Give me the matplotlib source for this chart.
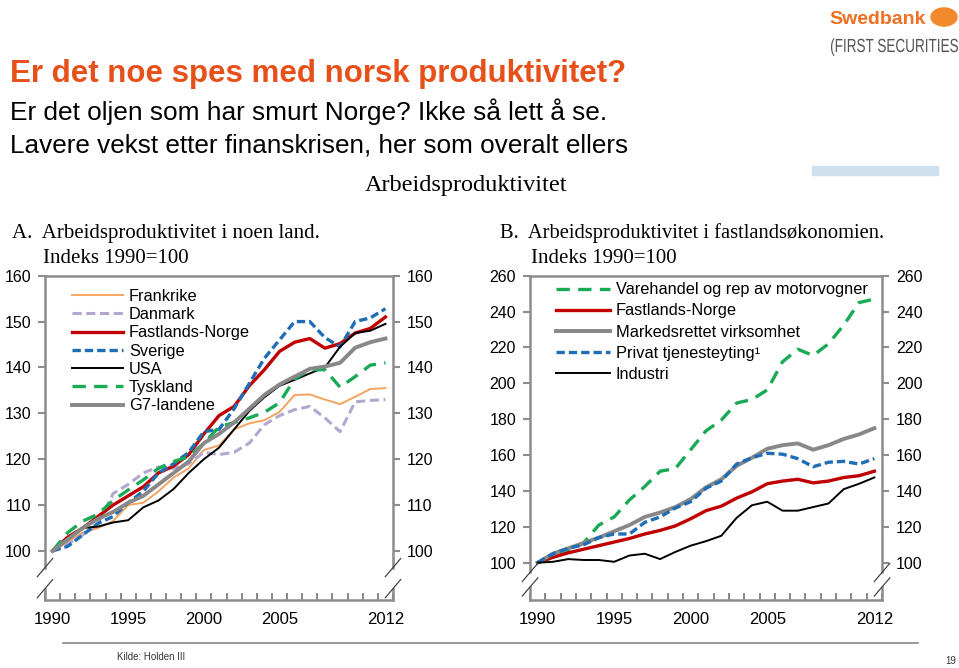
#
#   Arbeidsproduktivitet - slide 19 (Norge vs andre land, og fastlandsoekonomien)
#

import numpy as np
import matplotlib
matplotlib.use("Agg")
import matplotlib.pyplot as plt
from matplotlib.patches import Circle, Rectangle, PathPatch
from matplotlib.lines import Line2D
from matplotlib.textpath import TextPath
from matplotlib.font_manager import FontProperties
from matplotlib.transforms import Affine2D

#
#   Data (indeks 1990=100), lest av figuren
#

YEARS = list(range(1990, 2013))
XLABELS = {1990: "1990", 1995: "1995", 2000: "2000", 2005: "2005", 2012: "2012"}

# Panel A
frankrike = [100, 102, 104, 105, 106.5, 110, 110.5, 113, 116, 118, 122, 123, 126.5, 127.8,
             128.5, 130.3, 134, 134.1, 133, 132, 133.6, 135.3, 135.5]
danmark = [100, 101.5, 103.5, 106, 112.5, 114.5, 117, 118.3, 118, 119, 121.5, 121, 121.5, 123.5,
           127.5, 129.5, 130.8, 131.5, 129, 126, 132.5, 132.8, 133]
fastland_a = [100, 103, 105, 107.5, 110, 112, 114, 117, 118.5, 121, 125.5, 129.5, 131.5, 136,
              139.5, 143.5, 145.5, 146.3, 144.2, 145.2, 147.5, 148.5, 151]
sverige = [100, 101, 103.5, 106, 107.5, 110.5, 113, 117, 119, 121.5, 126, 126.5, 131, 136.5,
           142, 146, 150, 150, 146.5, 144.5, 150, 150.8, 152.8]
usa = [100, 102.5, 105, 105.3, 106.2, 106.7, 109.5, 111, 113.5, 117, 120, 122.5, 126.5, 130.5,
       133.5, 136, 137.3, 138.7, 140, 144.5, 147.5, 148, 149.5]
tyskland = [100, 104, 106.5, 108, 111, 113.3, 115.5, 118, 119.5, 120.5, 123.5, 127, 128, 129,
            130.2, 132.3, 137.5, 139.5, 139.5, 135.7, 138, 140.5, 141]
g7 = [100, 102.5, 105, 107, 108.5, 110.5, 112, 114.5, 117, 119.5, 123.5, 125.5, 128, 131,
      134, 136.3, 138, 139.7, 140.2, 141, 144.3, 145.5, 146.3]

# Panel B
varehandel = [100, 103, 106, 111, 121, 125.5, 135, 142.5, 151, 152.5, 163, 173.5, 179.5, 189,
              191, 196.3, 212, 219, 215.5, 222, 232.5, 245, 247]
fastland_b = [100, 103, 105.5, 107.5, 109.5, 111.5, 113.5, 116, 118, 120.5, 124.5, 129, 131.5,
              136, 139.5, 144, 145.5, 146.5, 144.5, 145.5, 147.5, 148.5, 151]
markedsrettet = [100, 105, 108, 111, 114, 117.5, 121, 125.5, 128, 131, 135.5, 142, 146.5, 154,
                 158.5, 163.5, 165.5, 166.5, 163, 165.5, 169, 171.5, 175]
privat = [100, 105, 108, 110, 114, 116, 116, 122.5, 125.5, 130.5, 134, 141.5, 145.5, 155,
          158.5, 161, 160.5, 158, 153.5, 156, 156.5, 155, 158]
industri = [100, 100.5, 102, 101.5, 101.5, 100.5, 104, 105, 102, 106, 109.5, 112, 115, 125,
            132, 134, 129, 129, 131, 133, 141, 144, 147.5]

ORANGE = "#f4a460"
LAVENDER = "#b4a7cf"
RED = "#c00000"
BLUE = "#1f6db5"
GREEN = "#1aaa55"
GRAY = "#888888"
SPINE = "#8c8c8c"

plt.rcParams["font.family"] = ["Liberation Sans", "DejaVu Sans"]

fig = plt.figure(figsize=(9.59, 6.68), dpi=100)


def px(x, y):
    # pixel position -> figure fraction
    return x / 959, 1 - y / 668


def style_axis(ax, ylim, yticks, brk):
    ax.set_xlim(1989.5, 2012.5)
    ax.set_ylim(*ylim)
    ax.set_yticks(yticks)
    ax.set_xticks(YEARS)
    ax.set_xticklabels([XLABELS.get(y, "") for y in YEARS])
    ax.set_xticks(np.arange(1989.5, 2013, 1), minor=True)
    ax.tick_params(axis="x", which="major", length=0, pad=9, labelsize=12)
    ax.tick_params(axis="x", which="minor", direction="in", length=5, width=1.5, color=SPINE)
    ax.tick_params(axis="y", which="major", direction="out", length=5, width=1.5, color=SPINE,
                   labelsize=11.5, left=True, right=True, labelleft=True, labelright=True, pad=5)
    for s in ["top", "bottom"]:
        ax.spines[s].set_color(SPINE)
        ax.spines[s].set_linewidth(1.8)
    ax.spines["left"].set_visible(False)
    ax.spines["right"].set_visible(False)
    b1, b2 = brk
    for xa in (0, 1):
        ax.add_line(Line2D([xa, xa], [b1, 1], transform=ax.transAxes, color=SPINE, lw=1.8, clip_on=False))
        ax.add_line(Line2D([xa, xa], [0, b2], transform=ax.transAxes, color=SPINE, lw=1.8, clip_on=False))
        for yb in (b1, b2):
            ax.add_line(Line2D([xa - 0.022, xa + 0.022], [yb - 0.028, yb + 0.028], transform=ax.transAxes,
                               color="#444444", lw=0.9, clip_on=False))


# Panel A
l, t = px(45, 275.7)
r, b = px(393, 600)
axa = fig.add_axes([l, b, r - l, t - b])
axa.plot(YEARS, frankrike, color=ORANGE, lw=1.4, label="Frankrike")
axa.plot(YEARS, danmark, color=LAVENDER, lw=2.2, ls=(0, (3, 1.5)), label="Danmark")
axa.plot(YEARS, fastland_a, color=RED, lw=2.4, label="Fastlands-Norge")
axa.plot(YEARS, sverige, color=BLUE, lw=2.4, ls=(0, (2.5, 1.2)), label="Sverige")
axa.plot(YEARS, usa, color="black", lw=1.4, label="USA")
axa.plot(YEARS, tyskland, color=GREEN, lw=2.4, ls=(0, (4, 2.5)), label="Tyskland")
axa.plot(YEARS, g7, color=GRAY, lw=2.8, label="G7-landene")
style_axis(axa, (89.3, 160), range(100, 161, 10), (0.10, 0.035))
axa.legend(loc="upper left", bbox_to_anchor=(0.06, 0.98), frameon=False, fontsize=11.8,
           handlelength=3.1, handletextpad=0.35, labelspacing=0.2, borderaxespad=0)

# Panel B
l, t = px(530, 275.7)
r, b = px(882, 600)
axb = fig.add_axes([l, b, r - l, t - b])
axb.plot(YEARS, varehandel, color=GREEN, lw=2.4, ls=(0, (4, 2.5)), label="Varehandel og rep av motorvogner")
axb.plot(YEARS, fastland_b, color=RED, lw=2.4, label="Fastlands-Norge")
axb.plot(YEARS, markedsrettet, color=GRAY, lw=2.8, label="Markedsrettet virksomhet")
axb.plot(YEARS, privat, color=BLUE, lw=2.4, ls=(0, (2.5, 1.2)), label="Privat tjenesteyting\u00b9")
axb.plot(YEARS, industri, color="black", lw=1.4, label="Industri")
style_axis(axb, (79.2, 260), range(100, 261, 20), (0.085, 0.04))
axb.legend(loc="upper left", bbox_to_anchor=(0.055, 1.0), frameon=False, fontsize=11.8,
           handlelength=3.3, handletextpad=0.35, labelspacing=0.38, borderaxespad=0)

# Titles
fig.text(*px(10, 82), "Er det noe spes med norsk produktivitet?", color="#e8501a",
         fontsize=22.5, fontweight="bold", va="baseline")
fig.text(*px(10, 120), "Er det oljen som har smurt Norge? Ikke s\u00e5 lett \u00e5 se.",
         color="black", fontsize=18.9, va="baseline")
fig.text(*px(10, 152), "Lavere vekst etter finanskrisen, her som overalt ellers",
         color="black", fontsize=18.8, va="baseline")

serif = ["Liberation Serif", "DejaVu Serif"]
fig.text(*px(466, 186), "Arbeidsproduktivitet", family=serif, fontsize=17.5, ha="center", va="center")
fig.text(*px(12, 238), "A.  Arbeidsproduktivitet i noen land.", family=serif, fontsize=15, va="baseline")
fig.text(*px(43, 263), "Indeks 1990=100", family=serif, fontsize=15, va="baseline")
fig.text(*px(500, 238), "B.  Arbeidsproduktivitet i fastlandsøkonomien.", family=serif, fontsize=14.8, va="baseline")
fig.text(*px(531, 263), "Indeks 1990=100", family=serif, fontsize=15, va="baseline")

# Logo
fig.text(*px(829, 24), "Swedbank", color="#ee7023", fontsize=14, fontweight="bold", va="baseline")
fig.patches.append(Circle(px(944, 17), 13 / 959, transform=fig.transFigure, color="#f08a2c", zorder=3))
# condensed "FIRST SECURITIES": text path squeezed horizontally to fit the logo width
tp = TextPath((0, 0), "(FIRST SECURITIES", size=19, prop=FontProperties(family="Liberation Sans"))
ext = tp.get_extents()
sx = 127 / ext.width
tr = Affine2D().translate(-ext.x0, 0).scale(sx / 959, 1 / 668).translate(831 / 959, 1 - 52 / 668)
fig.patches.append(PathPatch(tp, transform=tr + fig.transFigure, color="#555555", lw=0))
fig.patches.append(Rectangle(px(812, 175), 126 / 959, 9 / 668, transform=fig.transFigure,
                             color="#cfe0ee", zorder=1))

# Footer
fig.add_artist(Line2D([63 / 959, 918 / 959], [1 - 643 / 668] * 2, transform=fig.transFigure,
                      color="#888888", lw=1.2))
fig.text(*px(117, 660), "Kilde: Holden III", fontsize=7, color="#333333", va="baseline")
fig.text(*px(945, 664), "19", fontsize=7, color="#333333", va="baseline")

fig.savefig("out.png", dpi=100)
